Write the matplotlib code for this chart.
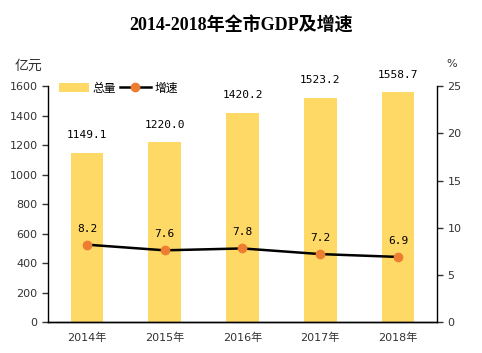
import matplotlib.pyplot as plt
import numpy as np

plt.rcParams['font.family'] = ['DejaVu Sans', 'Noto Sans CJK SC']

years = ['2014年', '2015年', '2016年', '2017年', '2018年']
gdp = [1149.1, 1220.0, 1420.2, 1523.2, 1558.7]
growth = [8.2, 7.6, 7.8, 7.2, 6.9]

x = np.arange(len(years))

fig = plt.figure(figsize=(4.82, 3.53), dpi=100)
ax = fig.add_axes([0.0996, 0.0878, 0.807, 0.668])
ax2 = ax.twinx()

bars = ax.bar(x, gdp, width=0.42, color='#FFD966', label='总量', zorder=2)
ax.set_xlim(-0.5, 4.5)
ax.set_ylim(0, 1600)
ax.set_yticks(np.arange(0, 1601, 200))
ax.set_xticks(x)
ax.set_xticklabels(years)
for xi, v in zip(x, gdp):
    ax.annotate('%.1f' % v, (xi, v), xytext=(0, 9), textcoords='offset points',
                ha='center', va='bottom', fontsize=8, color='#000000',
                family=['DejaVu Sans Mono', 'Noto Sans CJK SC'], annotation_clip=False)

line, = ax2.plot(x, growth, color='black', lw=1.8, marker='o', markersize=6,
                 markerfacecolor='#ED7D31', markeredgecolor='#ED7D31', label='增速', zorder=3)
ax2.set_ylim(0, 25)
ax2.set_yticks(np.arange(0, 26, 5))
for xi, v in zip(x, growth):
    ax2.annotate('%.1f' % v, (xi, v), xytext=(0, 8), textcoords='offset points',
                 ha='center', va='bottom', fontsize=8,
                 family=['DejaVu Sans Mono', 'Noto Sans CJK SC'])

for a in (ax, ax2):
    a.spines['top'].set_visible(False)
    a.tick_params(labelsize=8, colors='#333333', length=4, width=1)
    for s in a.spines.values():
        s.set_linewidth(1)
        s.set_color('black')
ax.tick_params(axis='x', length=0, pad=8)
ax.spines['right'].set_visible(False)
ax2.spines['left'].set_visible(False)

ax.legend([bars, line], ['总量', '增速'], loc='upper left', bbox_to_anchor=(0.0, 1.065),
          frameon=False, ncol=2, handlelength=2.6, columnspacing=0.3,
          handletextpad=0.3, prop={'family': 'Noto Sans CJK SC', 'size': 8.5})

fig.text(0.5, 0.928, '2014-2018年全市GDP及增速', ha='center', va='center',
         fontsize=13, fontweight='bold', family=['Liberation Serif', 'Noto Sans CJK SC'])
fig.text(0.03, 0.815, '亿元', ha='left', va='center', fontsize=10, family='Noto Sans CJK SC', color='#333333')
fig.text(0.927, 0.82, '%', ha='left', va='center', fontsize=8, color='#333333')

fig.savefig('out.png', dpi=100)
